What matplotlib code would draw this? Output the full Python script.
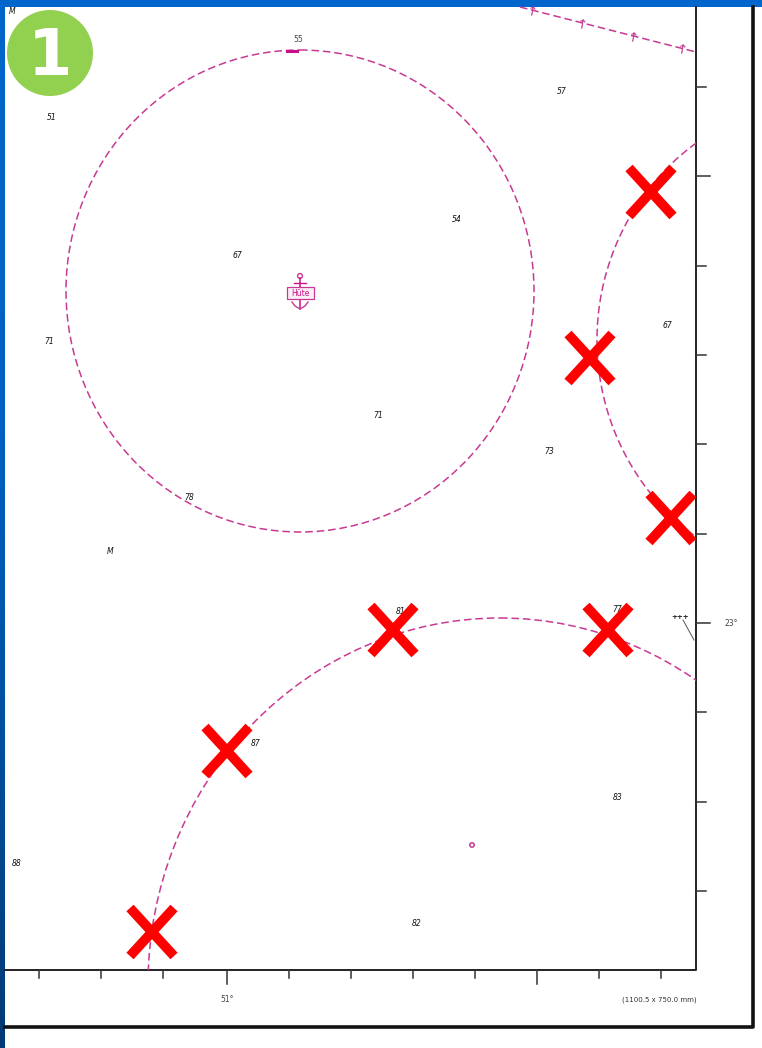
import numpy as np
import matplotlib
matplotlib.use('Agg')
import matplotlib.pyplot as plt
from matplotlib.colors import LinearSegmentedColormap
from matplotlib.patches import Circle, Ellipse, Rectangle

W, H = 762, 1048
PINK = '#c83a92'

# depth soundings
sound_x = [52, 237, 457, 562, 49, 378, 549, 667, 189, 110, 401, 617, 256, 618, 17, 417]
sound_y = [117, 255, 220, 92, 341, 416, 452, 326, 498, 551, 612, 610, 744, 797, 864, 923]
sound_txt = ['51', '67', '54', '57', '71', '71', '73', '67', '78', 'M', '81', '77', '87', '83', '88', '82']

# graticule ticks in picture pixels
right_ticks = [87, 176, 266, 355, 444, 534, 623, 712, 802, 891]
right_len = [10, 14, 10, 10, 10, 10, 14, 10, 10, 10]
bottom_ticks = [39, 101, 163, 227, 289, 351, 413, 475, 537, 599, 661]
bottom_len = [8, 8, 8, 14, 8, 8, 8, 8, 14, 8, 8]

# anchorage limit arcs: centre x, centre y, half width, half height
arc_cx = [300, 831, 500]
arc_cy = [291, 340, 985]
arc_rx = [234, 234, 352]
arc_ry = [241, 241, 367]

limit_x = [520, 696]
limit_y = [7, 52]
arrow_x = [531, 581, 632, 681]
arrow_y = [13, 26, 39, 51]

cross_x = [651, 590, 671, 393, 608, 227, 152]
cross_y = [192, 358, 518, 630, 630, 751, 932]

fig = plt.figure(figsize=(W / 100, H / 100), dpi=100)
ax = fig.add_axes([0, 0, 1, 1])

# slide background, blue darkens towards the bottom
blue = LinearSegmentedColormap.from_list('slide', [(0, '#0066cc'), (0.4, '#0062c4'), (0.7, '#00509f'), (1, '#003a75')])
ax.imshow(np.linspace(0, 1, 256).reshape(-1, 1), cmap=blue, extent=(0, 5, H, 0), aspect='auto', zorder=1)
ax.add_patch(Rectangle((0, 0), W, 7, color='#0066cc', lw=0, zorder=1))
ax.set_xlim(0, W)
ax.set_ylim(H, 0)
ax.axis('off')

# chart frame
ax.plot([5, 696, 696], [970, 970, 7], color='#222222', lw=1.4, zorder=2)
ax.plot([753, 753, 5], [7, 1027, 1027], color='#111111', lw=2.6, zorder=2)
for y, n in zip(right_ticks, right_len):
    ax.plot([696, 696 + n], [y, y], color='#333333', lw=1.1, zorder=2)
for x, n in zip(bottom_ticks, bottom_len):
    ax.plot([x, x], [970, 970 + n], color='#333333', lw=1.1, zorder=2)

# limit lines
dash = (0, (5, 2.5))
for cx, cy, rx, ry in zip(arc_cx, arc_cy, arc_rx, arc_ry):
    e = Ellipse((cx, cy), 2 * rx, 2 * ry, fill=False, ec=PINK, lw=1.1, ls=dash, zorder=3)
    ax.add_patch(e)
    e.set_clip_path(Rectangle((5, 7), 691, 963, transform=ax.transData))
ax.plot(limit_x, limit_y, color=PINK, lw=1.1, ls=dash, zorder=3)
for x, y in zip(arrow_x, arrow_y):
    ax.text(x, y, '\u2191', color=PINK, fontsize=9.5, rotation=-10, ha='center', va='center', zorder=3)
ax.plot([287, 297], [51, 51], color='#c8108a', lw=2.2, zorder=3)

# soundings
for x, y, t in zip(sound_x, sound_y, sound_txt):
    ax.text(x, y, t, fontsize=5.5, style='italic', color='#111111', ha='center', va='center', zorder=4)
ax.text(12, 11, 'M', fontsize=5.5, style='italic', color='#111111', ha='center', va='center', zorder=4)
ax.text(298, 39, '55', fontsize=5.5, color='#444444', ha='center', va='center', zorder=4)
ax.text(227, 1000, '51\u00b0', fontsize=5.5, color='#444444', ha='center', va='center', zorder=4)
ax.text(731, 624, '23\u00b0', fontsize=5.5, color='#444444', ha='center', va='center', zorder=4)
ax.text(659, 1000, '(1100.5 x 750.0 mm)', fontsize=5, color='#333333', ha='center', va='center', zorder=4)

# wreck symbol with leader
ax.text(680, 617, '+++', fontsize=5, fontweight='bold', color='#222222', ha='center', va='center', zorder=4)
ax.plot([683, 694], [620, 640], color='#555555', lw=0.7, zorder=4)

# anchor symbol
ax.add_patch(Circle((300, 276), 2.4, fill=False, ec=PINK, lw=1.0, zorder=4))
ax.plot([300, 300], [278, 309], color='#c8108a', lw=1.1, zorder=4)
ax.plot([294, 306], [283, 283], color='#c8108a', lw=1.0, zorder=4)
ax.add_patch(Rectangle((287, 287), 27, 12, fc='#fbeef6', ec=PINK, lw=0.9, zorder=5))
ax.text(300.5, 293, 'Hüte', fontsize=5.5, color='#c8108a', ha='center', va='center', zorder=6)
ax.plot([292, 295, 300, 305, 308], [302, 306, 309, 306, 302], color=PINK, lw=1.0, zorder=4)

# small pink buoy
ax.add_patch(Circle((472, 845), 2.2, fill=False, ec=PINK, lw=1.1, zorder=4))

# red crosses
for x, y in zip(cross_x, cross_y):
    ax.plot([x - 22, x + 22], [y - 24, y + 24], color='#ff0000', lw=7, solid_capstyle='butt', zorder=7)
    ax.plot([x - 22, x + 22], [y + 24, y - 24], color='#ff0000', lw=7, solid_capstyle='butt', zorder=7)

# step badge
ax.add_patch(Circle((50, 53), 43, color='#92d050', lw=0, zorder=8))
ax.text(50, 57, '1', fontsize=46, fontweight='bold', color='white', ha='center', va='center', zorder=9)

fig.savefig('out.png', dpi=100)
